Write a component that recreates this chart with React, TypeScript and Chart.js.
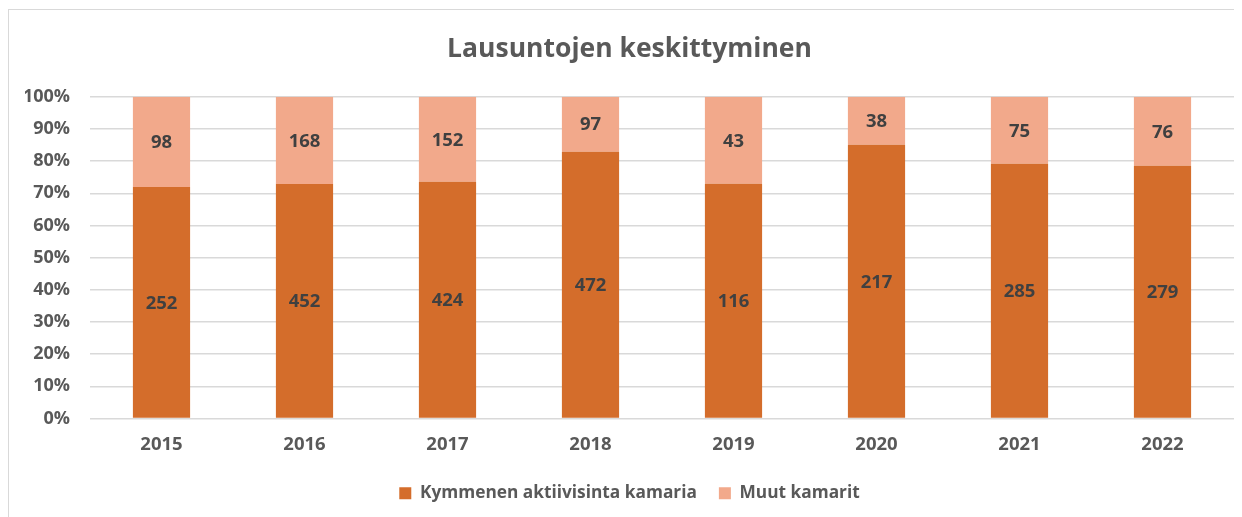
import React, { useEffect, useRef } from "react";
import { Chart, registerables } from "chart.js";

Chart.register(...registerables);

const categories = ["2015", "2016", "2017", "2018", "2019", "2020", "2021", "2022"];
const topTenValues = [252, 452, 424, 472, 116, 217, 285, 279];
const otherValues = [98, 168, 152, 97, 43, 38, 75, 76];
const yTickLabels = ["0%", "10%", "20%", "30%", "40%", "50%", "60%", "70%", "80%", "90%", "100%"];
const seriesNames = ["Kymmenen aktiivisinta kamaria", "Muut kamarit"];
const titleText = "Lausuntojen keskittyminen";

const FONT = "'Open Sans', 'Liberation Sans', sans-serif";
const AXIS_COLOR = "#595959";
const LABEL_COLOR = "#404040";

const labelPlugin = {
  id: "valueLabels",
  afterDatasetsDraw(chart: any) {
    const ctx = chart.ctx;
    ctx.save();
    ctx.font = `bold 18.5px ${FONT}`;
    ctx.fillStyle = LABEL_COLOR;
    ctx.textAlign = "center";
    ctx.textBaseline = "middle";
    chart.data.datasets.forEach((ds: any, di: number) => {
      const meta = chart.getDatasetMeta(di);
      meta.data.forEach((el: any, i: number) => {
        const raw = ds.rawValues[i];
        const { x, y, base } = el.getProps(["x", "y", "base"], true);
        ctx.fillText(String(raw), x, (y + base) / 2 + 1);
      });
    });
    ctx.restore();
  },
};

export default function App() {
  const ref = useRef<HTMLCanvasElement>(null);
  useEffect(() => {
    if (!ref.current) return;
    const totals = topTenValues.map((v, i) => v + otherValues[i]);
    const pctTop = topTenValues.map((v, i) => (v / totals[i]) * 100);
    const pctOther = otherValues.map((v, i) => (v / totals[i]) * 100);
    const chart = new Chart(ref.current, {
      type: "bar",
      data: {
        labels: categories,
        datasets: [
          {
            label: seriesNames[0],
            data: pctTop,
            rawValues: topTenValues,
            backgroundColor: "#D46D2B",
            categoryPercentage: 1,
            barPercentage: 0.4,
          } as any,
          {
            label: seriesNames[1],
            data: pctOther,
            rawValues: otherValues,
            backgroundColor: "#F2A98B",
            categoryPercentage: 1,
            barPercentage: 0.4,
          } as any,
        ],
      },
      options: {
        responsive: false,
        animation: false,
        layout: { padding: { left: 16, right: 13, top: 0, bottom: 6 } },
        plugins: {
          title: {
            display: true,
            text: titleText,
            color: AXIS_COLOR,
            font: { family: FONT, size: 26.5, weight: "bold" },
            padding: { top: 24, bottom: 31 },
          },
          legend: {
            position: "bottom",
            labels: {
              boxWidth: 12,
              boxHeight: 12,
              color: AXIS_COLOR,
              font: { family: FONT, size: 17.3, weight: "bold" },
              padding: 22,
            },
          },
          tooltip: { enabled: false },
        },
        scales: {
          x: {
            stacked: true,
            afterFit(scale: any) {
              scale.height -= 8;
            },
            grid: { display: false, drawTicks: false },
            border: { display: false },
            ticks: {
              color: AXIS_COLOR,
              font: { family: FONT, size: 18.5, weight: "bold" },
              padding: 15,
            },
          },
          y: {
            stacked: true,
            min: 0,
            max: 100,
            afterFit(scale: any) {
              scale.width = 65;
            },
            grid: { color: "#D9D9D9", lineWidth: 1.5, drawTicks: false },
            border: { display: false },
            ticks: {
              stepSize: 10,
              color: AXIS_COLOR,
              font: { family: FONT, size: 18, weight: "bold" },
              padding: 20,
              callback: (v: any) => yTickLabels[Math.round(Number(v) / 10)],
            },
          },
        },
      },
      plugins: [labelPlugin],
    });
    return () => chart.destroy();
  }, []);
  return (
    <div
      style={{
        width: 1240,
        height: 510,
        border: "1px solid #D9D9D9",
        marginTop: 1,
        boxSizing: "border-box",
        background: "#fff",
      }}
    >
      <canvas ref={ref} width={1238} height={508} />
    </div>
  );
}
